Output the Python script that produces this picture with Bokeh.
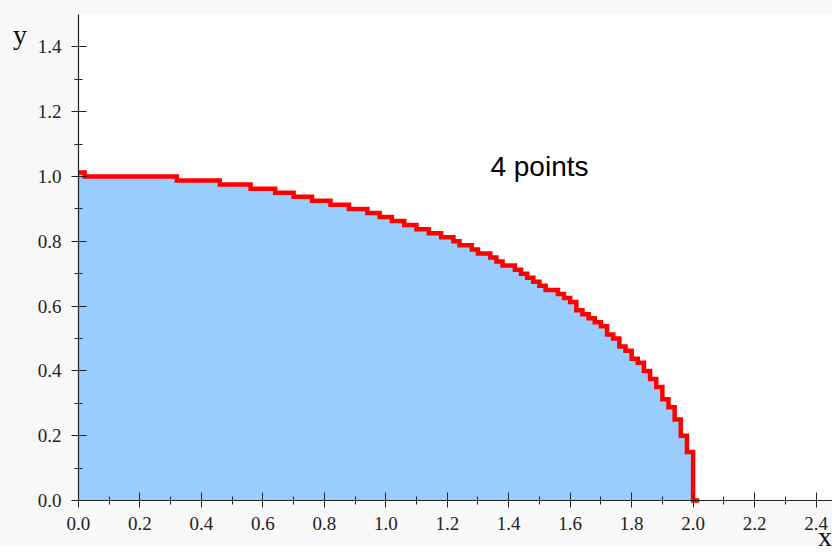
from bokeh.plotting import figure
from bokeh.models import (SingleIntervalTicker, Label, Range1d, PrintfTickFormatter,
                          LinearAxis, BoxAnnotation)
from bokeh.embed import file_html
from bokeh.resources import INLINE

# step start positions (x) and step heights (y)
step_x = [0.00, 0.02, 0.04, 0.06, 0.08, 0.10, 0.12, 0.14, 0.16, 0.18,
          0.20, 0.22, 0.24, 0.26, 0.28, 0.30, 0.32, 0.34, 0.36, 0.38,
          0.40, 0.42, 0.44, 0.46, 0.48, 0.50, 0.52, 0.54, 0.56, 0.58,
          0.60, 0.62, 0.64, 0.66, 0.68, 0.70, 0.72, 0.74, 0.76, 0.78,
          0.80, 0.82, 0.84, 0.86, 0.88, 0.90, 0.92, 0.94, 0.96, 0.98,
          1.00, 1.02, 1.04, 1.06, 1.08, 1.10, 1.12, 1.14, 1.16, 1.18,
          1.20, 1.22, 1.24, 1.26, 1.28, 1.30, 1.32, 1.34, 1.36, 1.38,
          1.40, 1.42, 1.44, 1.46, 1.48, 1.50, 1.52, 1.54, 1.56, 1.58,
          1.60, 1.62, 1.64, 1.66, 1.68, 1.70, 1.72, 1.74, 1.76, 1.78,
          1.80, 1.82, 1.84, 1.86, 1.88, 1.90, 1.92, 1.94, 1.96, 1.98,
          2.00, 2.02]
step_y = [1.0125, 1.0, 1.0, 1.0, 1.0, 1.0, 1.0, 1.0, 1.0, 1.0,
          1.0, 1.0, 1.0, 1.0, 1.0, 1.0, 0.9875, 0.9875, 0.9875, 0.9875,
          0.9875, 0.9875, 0.9875, 0.975, 0.975, 0.975, 0.975, 0.975, 0.9625, 0.9625,
          0.9625, 0.9625, 0.95, 0.95, 0.95, 0.9375, 0.9375, 0.9375, 0.925, 0.925,
          0.925, 0.9125, 0.9125, 0.9125, 0.9, 0.9, 0.9, 0.8875, 0.8875, 0.875,
          0.875, 0.8625, 0.8625, 0.85, 0.85, 0.8375, 0.8375, 0.825, 0.825, 0.8125,
          0.8125, 0.8, 0.7875, 0.7875, 0.775, 0.7625, 0.7625, 0.75, 0.7375, 0.725,
          0.725, 0.7125, 0.7, 0.6875, 0.675, 0.6625, 0.65, 0.65, 0.6375, 0.625,
          0.6125, 0.5875, 0.575, 0.5625, 0.55, 0.5375, 0.5125, 0.5, 0.475, 0.4625,
          0.4375, 0.425, 0.4, 0.375, 0.35, 0.3125, 0.2875, 0.25, 0.2, 0.15,
          0.0, 0.0]

annotation_text = "4 points"
annotation_pos = (1.5, 1.03)
x_label = "x"
y_label = "y"
x_axis_span = (0, 3)
y_axis_span = (0, 1.5)

p = figure(width=832, height=546, output_backend="svg", toolbar_location=None,
           x_range=Range1d(-0.2538, 2.4536), y_range=Range1d(-0.142, 1.5432),
           x_axis_location=None, y_axis_location=None,
           min_border_left=0, min_border_right=0, min_border_top=0, min_border_bottom=0)
p.border_fill_color = "#f8f8f8"
p.background_fill_color = "#f8f8f8"
p.outline_line_color = None
p.grid.visible = False

# white plotting area (x >= 0, 0 <= y <= 1.5)
p.add_layout(BoxAnnotation(left=x_axis_span[0], bottom=y_axis_span[0], top=y_axis_span[1],
                           fill_color="white", fill_alpha=1.0, line_color=None, level="underlay"))

p.varea_step(x=step_x, y1=[0] * len(step_x), y2=step_y, step_mode="after", fill_color="#99ccff")
p.step(step_x, step_y, mode="after", line_color="red", line_width=4.5, line_join="miter")

xaxis = LinearAxis(fixed_location=0, bounds=x_axis_span)
yaxis = LinearAxis(fixed_location=0, bounds=y_axis_span)
p.add_layout(xaxis, "below")
p.add_layout(yaxis, "left")

for ax in (xaxis, yaxis):
    ax.ticker = SingleIntervalTicker(interval=0.2, num_minor_ticks=2)
    ax.formatter = PrintfTickFormatter(format="%.1f")
    ax.major_tick_in = 8
    ax.major_tick_out = 7
    ax.minor_tick_in = 4
    ax.minor_tick_out = 4
    ax.major_label_text_font = "Liberation Serif"
    ax.major_label_text_font_size = "19px"
    ax.major_label_text_color = "#222222"
    ax.axis_line_color = "#222222"
    ax.axis_line_width = 1.2
    ax.major_tick_line_color = "#222222"
    ax.minor_tick_line_color = "#222222"
xaxis.major_label_standoff = 10
yaxis.major_label_standoff = 10

p.add_layout(Label(x=annotation_pos[0], y=annotation_pos[1], text=annotation_text,
                   text_align="center", text_baseline="alphabetic",
                   text_font="Liberation Sans", text_font_size="28px", text_color="black"))
p.add_layout(Label(x=-0.190, y=1.438, text=y_label, text_align="center", text_baseline="alphabetic",
                   text_font="Liberation Serif", text_font_size="28px", text_color="#111111"))
p.add_layout(Label(x=2.452, y=-0.111, text=x_label, text_align="right", text_baseline="alphabetic",
                   text_font="Liberation Serif", text_font_size="28px", text_color="#111111"))

open("out.html", "w").write(file_html(p, INLINE))
